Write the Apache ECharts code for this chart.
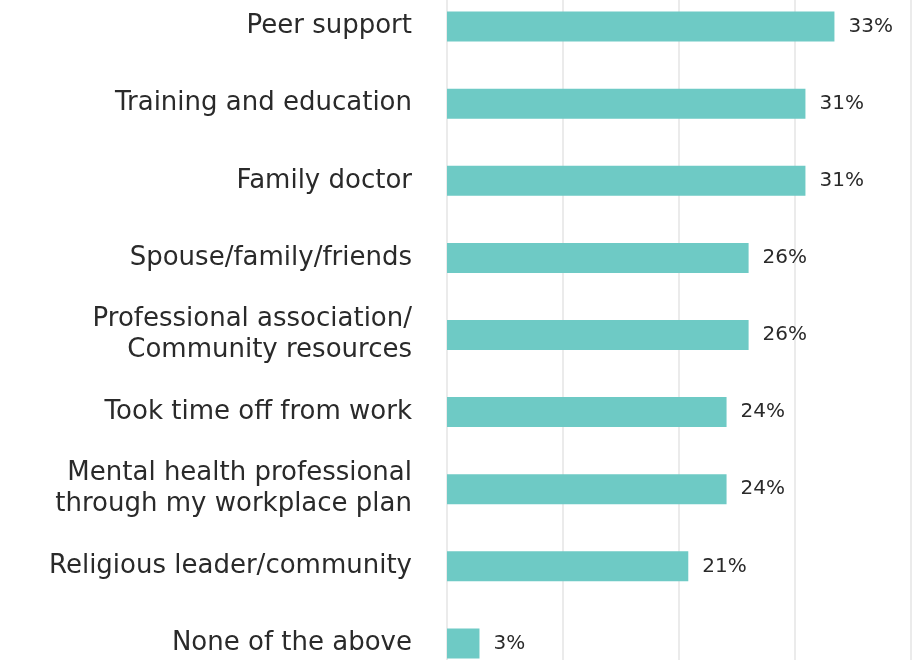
<!DOCTYPE html>
<html><head><meta charset="utf-8">
<script src="https://cdn.jsdelivr.net/npm/echarts@6/dist/echarts.min.js"></script>
<style>html,body{margin:0;padding:0;background:#fff;overflow:hidden;width:921px;height:660px}#c{width:921px;height:694px;margin-top:-12px}</style>
</head><body><div id="c"></div>
<script>
const categories = ["Peer support","Training and education","Family doctor","Spouse/family/friends","Professional association/\nCommunity resources","Took time off from work","Mental health professional\nthrough my workplace plan","Religious leader/community","None of the above"];
const values = [33.4, 30.9, 30.9, 26, 26, 24.1, 24.1, 20.8, 2.8];
const xTicks = [0, 10, 20, 30, 40];

const chart = echarts.init(document.getElementById('c'));
chart.setOption({
  animation: false,
  grid: {left: 447, right: 10, top: 0, bottom: 0, containLabel: false},
  xAxis: {type: 'value', min: xTicks[0], max: xTicks[xTicks.length-1], interval: 10,
    axisLabel: {show: false}, axisLine: {show: false}, axisTick: {show: false},
    splitLine: {show: true, lineStyle: {color: '#e4e4e4', width: 1.5}}},
  yAxis: {type: 'category', inverse: true, data: categories,
    axisLine: {show: false}, axisTick: {show: false},
    axisLabel: {margin: 35, fontSize: 26, color: '#2a2a2a', fontFamily: 'DejaVu Sans', lineHeight: 31, align: 'right'}},
  series: [{type: 'bar', data: values, barWidth: 30, itemStyle: {color: '#6ECAC5'},
    label: {show: true, position: 'right', distance: 14, fontSize: 20, color: '#2a2a2a', fontFamily: 'DejaVu Sans',
      formatter: p => Math.round(p.value) + '%'}}]
});
</script></body></html>
